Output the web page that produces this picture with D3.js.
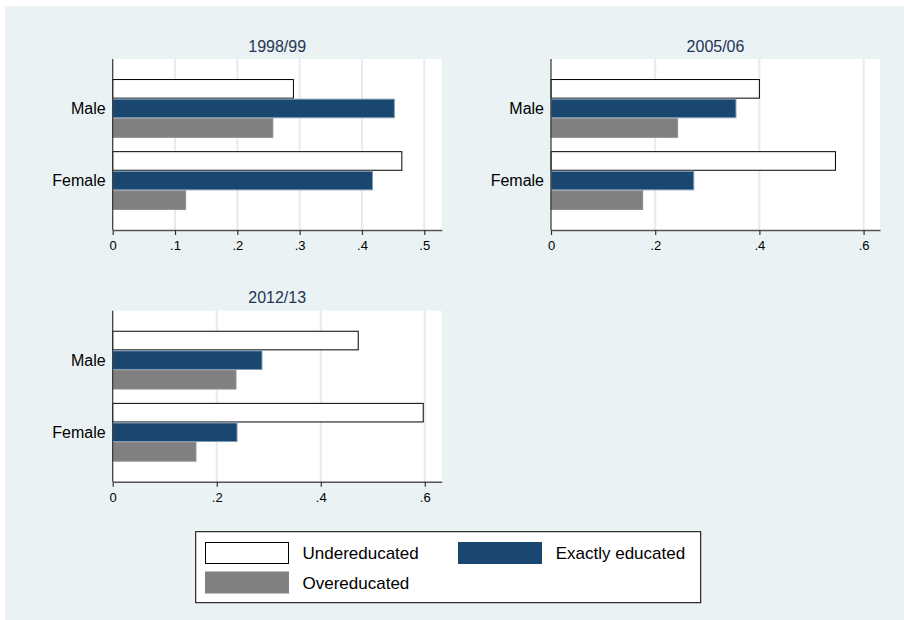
<!DOCTYPE html>
<html>
<head>
<meta charset="utf-8">
<script src="https://cdn.jsdelivr.net/npm/d3@7"></script>
<style>
  html, body { margin: 0; padding: 0; background: #ffffff; }
  svg { display: block; font-family: "Liberation Sans", Arial, Helvetica, sans-serif; }
  .xaxis text { font-size: 13px; fill: #000000; }
</style>
</head>
<body>
<svg id="chart" width="904" height="620"></svg>
<script>
// Share of workers by education match, by sex and survey year
const categories = ["Male", "Female"];
const seriesNames = ["Undereducated", "Exactly educated", "Overeducated"];
const years = ["1998/99", "2005/06", "2012/13"];

// values[series][category] for each survey year
const under9899 = [0.290, 0.464];
const exact9899 = [0.452, 0.417];
const over9899  = [0.257, 0.117];

const under0506 = [0.400, 0.546];
const exact0506 = [0.355, 0.274];
const over0506  = [0.243, 0.176];

const under1213 = [0.472, 0.597];
const exact1213 = [0.287, 0.239];
const over1213  = [0.237, 0.160];

const ticks9899 = [0, 0.1, 0.2, 0.3, 0.4, 0.5];
const ticks0506 = [0, 0.2, 0.4, 0.6];
const ticks1213 = [0, 0.2, 0.4, 0.6];

const colors = { "Undereducated": "#ffffff", "Exactly educated": "#1a476f", "Overeducated": "#808080" };
const strokes = { "Undereducated": "#000000", "Exactly educated": "#7f9bb8", "Overeducated": "#8c8c8c" };

const panels = [
  { title: years[0], data: [under9899, exact9899, over9899], ticks: ticks9899, max: 0.528, x0: 112.7, y0: 59, w: 329, h: 171 },
  { title: years[1], data: [under0506, exact0506, over0506], ticks: ticks0506, max: 0.6315, x0: 551, y0: 59, w: 329, h: 171 },
  { title: years[2], data: [under1213, exact1213, over1213], ticks: ticks1213, max: 0.6325, x0: 112.7, y0: 310.7, w: 329, h: 171 }
];

const svg = d3.select("#chart");

// page background
svg.append("rect").attr("x", 5).attr("y", 6).attr("width", 899).attr("height", 614).attr("fill", "#eaf2f3");

const fmt = v => v === 0 ? "0" : d3.format(".1f")(v).replace(/^0/, "");

panels.forEach(p => {
  const g = svg.append("g").attr("transform", `translate(${p.x0},${p.y0})`);
  const x = d3.scaleLinear().domain([0, p.max]).range([0, p.w]);
  const y = d3.scaleBand().domain(categories).range([0, p.h]).paddingInner(0.185).paddingOuter(0.278);
  const ySub = d3.scaleBand().domain(seriesNames).range([0, y.bandwidth()]).padding(0);

  // plot region
  g.append("rect").attr("width", p.w).attr("height", p.h).attr("fill", "#ffffff");

  // vertical gridlines
  g.selectAll("line.grid").data(p.ticks.filter(t => t > 0)).join("line")
    .attr("class", "grid")
    .attr("x1", d => x(d)).attr("x2", d => x(d))
    .attr("y1", 0).attr("y2", p.h)
    .attr("stroke", "#e3ecf0").attr("stroke-width", 2);

  // bars
  seriesNames.forEach((s, si) => {
    g.selectAll(null).data(categories).join("rect")
      .attr("x", x(0))
      .attr("y", c => y(c) + ySub(s) + 0.5)
      .attr("width", (c, ci) => x(p.data[si][ci]) - x(0))
      .attr("height", ySub.bandwidth() - 1)
      .attr("fill", colors[s])
      .attr("stroke", strokes[s])
      .attr("stroke-width", 1);
  });

  // y axis line and category labels
  g.append("line").attr("x1", 0).attr("x2", 0).attr("y1", 0).attr("y2", p.h)
    .attr("stroke", "#333333").attr("stroke-width", 1.2);
  g.selectAll("text.cat").data(categories).join("text")
    .attr("class", "cat")
    .attr("x", -7)
    .attr("y", c => y(c) + y.bandwidth() / 2)
    .attr("dy", "0.35em")
    .attr("text-anchor", "end")
    .style("font-size", "16px")
    .attr("fill", "#000000")
    .text(c => c);

  // x axis
  const xAxis = d3.axisBottom(x).tickValues(p.ticks).tickFormat(fmt).tickSize(5).tickPadding(6).tickSizeOuter(0);
  const ax = g.append("g").attr("class", "xaxis").attr("transform", `translate(0,${p.h})`).call(xAxis);
  ax.attr("font-size", 13).attr("font-family", "Liberation Sans, Arial, sans-serif");
  ax.select(".domain").attr("stroke", "#555555").attr("stroke-width", 1.5);
  ax.selectAll(".tick line").attr("stroke", "#333333").attr("stroke-width", 1.2);
  ax.selectAll("text").attr("font-size", 13);

  // panel title
  g.append("text")
    .attr("x", p.w / 2).attr("y", -7.5)
    .attr("text-anchor", "middle")
    .style("font-size", "16px")
    .attr("fill", "#1f3556")
    .text(p.title);
});

// legend
const lg = svg.append("g");
lg.append("rect").attr("x", 195.7).attr("y", 531.7).attr("width", 505).attr("height", 71)
  .attr("fill", "#ffffff").attr("stroke", "#000000").attr("stroke-width", 1);

const legendItems = [
  { s: seriesNames[0], kx: 205.5, ky: 542.5, tx: 302.5 },
  { s: seriesNames[1], kx: 458.5, ky: 542.5, tx: 555.7 },
  { s: seriesNames[2], kx: 205.5, ky: 572, tx: 302.5 }
];
lg.selectAll("rect.key").data(legendItems).join("rect")
  .attr("class", "key")
  .attr("x", d => d.kx).attr("y", d => d.ky)
  .attr("width", 83).attr("height", 21)
  .attr("fill", d => colors[d.s])
  .attr("stroke", d => d.s === seriesNames[0] ? "#000000" : colors[d.s])
  .attr("stroke-width", 1);
lg.selectAll("text.lab").data(legendItems).join("text")
  .attr("class", "lab")
  .attr("x", d => d.tx).attr("y", d => d.ky + 16.5)
  .style("font-size", "17px")
  .attr("fill", "#000000")
  .text(d => d.s);
</script>
</body>
</html>
